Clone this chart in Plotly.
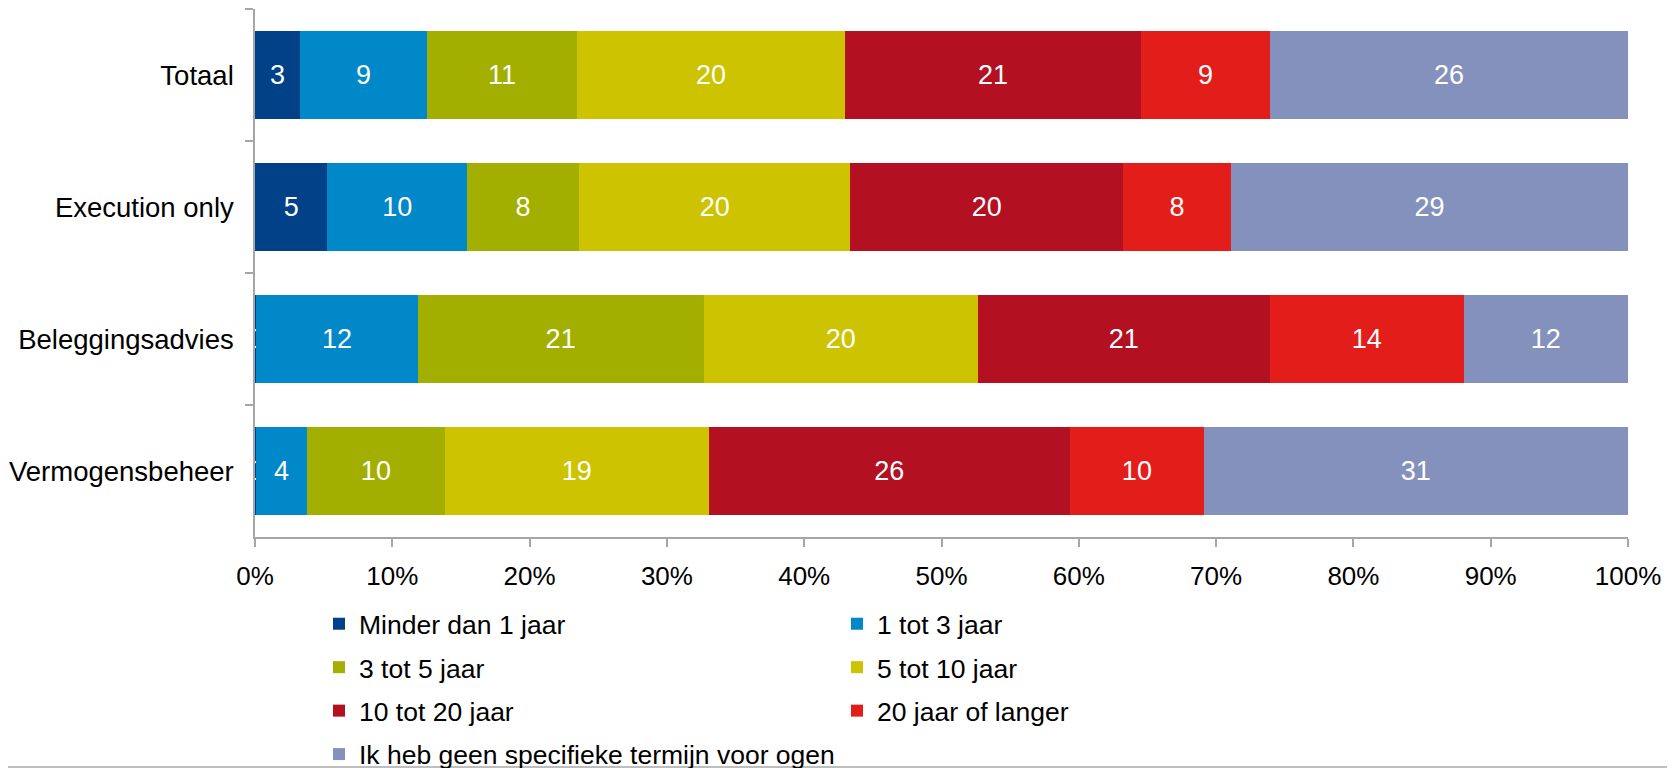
import plotly.graph_objects as go

categories = ["Totaal", "Execution only", "Beleggingsadvies", "Vermogensbeheer"]

series_names = [
    "Minder dan 1 jaar",
    "1 tot 3 jaar",
    "3 tot 5 jaar",
    "5 tot 10 jaar",
    "10 tot 20 jaar",
    "20 jaar of langer",
    "Ik heb geen specifieke termijn voor ogen",
]

# bar lengths (percent), one list per series, in category order
minder_1 = [3.28, 5.28, 0.1, 0.1]
tot_3 = [9.26, 10.17, 11.74, 3.67]
tot_5 = [10.91, 8.15, 20.84, 10.07]
tot_10 = [19.53, 19.77, 19.96, 19.20]
tot_20 = [21.55, 19.84, 21.26, 26.32]
langer_20 = [9.40, 7.89, 14.14, 9.74]
geen_termijn = [26.07, 28.90, 11.93, 30.87]

# data labels as printed on the bars
lbl_minder_1 = [3, 5, 0, 0]
lbl_tot_3 = [9, 10, 12, 4]
lbl_tot_5 = [11, 8, 21, 10]
lbl_tot_10 = [20, 20, 20, 19]
lbl_tot_20 = [21, 20, 21, 26]
lbl_langer_20 = [9, 8, 14, 10]
lbl_geen = [26, 29, 12, 31]

x_tickvals = [0, 10, 20, 30, 40, 50, 60, 70, 80, 90, 100]
x_ticktext = ["0%", "10%", "20%", "30%", "40%", "50%", "60%", "70%", "80%", "90%", "100%"]

colors = ["#004187", "#0088C8", "#A3AF00", "#CDC300", "#B31022", "#E31E1A", "#8591BD"]

values = [minder_1, tot_3, tot_5, tot_10, tot_20, langer_20, geen_termijn]
labels = [lbl_minder_1, lbl_tot_3, lbl_tot_5, lbl_tot_10, lbl_tot_20, lbl_langer_20, lbl_geen]
legend_of = ["legend", "legend2", "legend", "legend2", "legend", "legend2", "legend"]

FONT = "Liberation Sans, Arial, sans-serif"
W, H = 1675, 768
# the page places the figure 8px right/down (default body margin)
ML, MR, MT, MB = 247, 55, 1, 239

fig = go.Figure()
for name, vals, lbls, col, lg in zip(series_names, values, labels, colors, legend_of):
    fig.add_trace(go.Bar(
        name=name,
        y=categories,
        x=vals,
        orientation="h",
        marker=dict(color=col, line=dict(width=0)),
        text=[str(v) for v in lbls],
        texttemplate="%{text}",
        textposition="inside",
        insidetextanchor="middle",
        textangle=0,
        constraintext="none",
        insidetextfont=dict(color="white", size=27, family=FONT),
        legend=lg,
        legendgroup=name,
        hoverinfo="skip",
    ))

axis_col = "#A6A6A6"
pw = W - ML - MR
ph = H - MT - MB

legend_common = dict(
    orientation="v",
    xref="container", yref="container",
    xanchor="left", yanchor="top",
    traceorder="grouped",
    tracegroupgap=6,
    font=dict(size=26.5, color="black", family=FONT),
    bgcolor="rgba(0,0,0,0)",
)

fig.update_layout(
    width=W, height=H,
    margin=dict(l=ML, r=MR, t=MT, b=MB, autoexpand=False),
    barmode="stack",
    bargap=0.337,
    plot_bgcolor="white",
    paper_bgcolor="white",
    font=dict(family=FONT, size=26, color="black"),
    xaxis=dict(
        range=[0, 100],
        tickvals=x_tickvals,
        ticktext=x_ticktext,
        showgrid=False,
        zeroline=False,
        showline=True,
        linecolor=axis_col,
        linewidth=1.5,
        ticks="outside",
        ticklen=8,
        tickwidth=1.5,
        tickcolor=axis_col,
        tickangle=0,
        ticklabelstandoff=7,
        automargin=False,
        tickfont=dict(size=26, color="black", family=FONT),
        fixedrange=True,
    ),
    yaxis=dict(
        categoryorder="array",
        categoryarray=categories,
        autorange="reversed",
        showgrid=False,
        zeroline=False,
        showline=True,
        linecolor=axis_col,
        linewidth=1.5,
        ticks="outside",
        tickson="boundaries",
        ticklen=8,
        tickwidth=1.5,
        tickcolor=axis_col,
        ticklabelstandoff=14,
        automargin=False,
        tickfont=dict(size=27.5, color="black", family=FONT),
        fixedrange=True,
    ),
    legend=dict(legend_common, x=311 / W, y=1 - 592 / H),
    legend2=dict(legend_common, x=829 / W, y=1 - 592 / H),
    shapes=[dict(
        type="line", xref="paper", yref="paper",
        x0=-ML / pw, x1=(W - ML) / pw,
        y0=-(MB - 9) / ph, y1=-(MB - 9) / ph,
        line=dict(color="#A8A8A8", width=1.5),
    )],
)

fig.write_html("out.html")
